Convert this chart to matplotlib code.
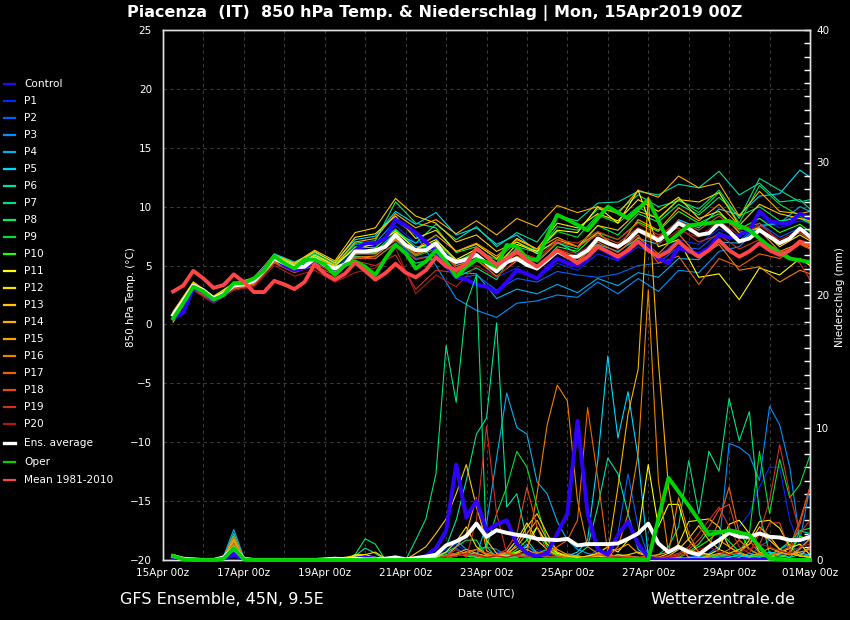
import numpy as np
import matplotlib
matplotlib.use('Agg')
import matplotlib.pyplot as plt
from matplotlib.lines import Line2D
from matplotlib.ticker import MultipleLocator

# ---------------- time axes (days after 15Apr2019 00z) ----------------
t6 = np.arange(1, 65) * 0.25                       # 6-hourly, 06z 15Apr .. 00z 01May
t12 = np.append(np.arange(0.25, 16.0, 0.5), 16.0)  # members: 06z/18z + end
t_oper = np.concatenate([np.arange(1, 41) * 0.25, 10.0 + np.arange(1, 13) * 0.5])

tick_days = [0, 2, 4, 6, 8, 10, 12, 14, 16]
tick_labels = ['15Apr 00z', '17Apr 00z', '19Apr 00z', '21Apr 00z', '23Apr 00z',
               '25Apr 00z', '27Apr 00z', '29Apr 00z', '01May 00z']

# ---------------- main lines: 850 hPa temperature (°C) ----------------
ctrl_temp = [0.5, 1.0, 3.1, 2.8, 2.0, 2.5, 3.3, 3.5,
             3.7, 4.7, 5.7, 5.0, 4.6, 4.8, 5.5, 5.0,
             4.7, 5.2, 6.3, 6.9, 6.9, 7.3, 8.9, 8.4,
             7.8, 7.0, 6.2, 5.0, 4.0, 3.8, 3.4, 3.2,
             2.7, 3.6, 4.6, 4.3, 3.9, 4.8, 5.6, 5.2,
             5.0, 5.6, 6.6, 6.1, 5.6, 6.2, 7.0, 6.6,
             5.6, 5.2, 6.5, 6.2, 6.0, 6.5, 7.6, 7.4,
             7.6, 8.0, 9.6, 8.8, 8.6, 8.6, 9.4, 9.0]
ens_temp = [0.8, 2.0, 3.3, 2.9, 2.2, 2.6, 3.3, 3.4,
            3.7, 4.6, 5.6, 5.2, 4.85, 4.9, 5.6, 5.05,
            4.75, 5.1, 6.2, 6.2, 6.3, 6.6, 7.6, 6.75,
            6.3, 6.3, 6.9, 5.75, 5.3, 5.5, 5.9, 5.2,
            4.5, 5.3, 5.6, 5.05, 4.75, 5.45, 6.2, 5.75,
            5.75, 6.3, 7.3, 6.9, 6.6, 7.15, 8.0, 7.6,
            7.15, 7.75, 8.6, 8.15, 7.6, 7.75, 8.6, 7.9,
            7.05, 7.3, 8.0, 7.45, 6.9, 7.3, 8.15, 7.45]
clim_temp = [2.8, 3.3, 4.55, 3.9, 3.1, 3.35, 4.25, 3.6,
             2.75, 2.75, 3.7, 3.4, 3.0, 3.6, 5.1, 4.3,
             3.8, 4.3, 5.25, 4.55, 3.8, 4.35, 5.15, 4.4,
             4.0, 4.6, 5.7, 4.95, 4.6, 5.15, 6.45, 5.75,
             5.05, 5.6, 6.2, 5.45, 4.9, 5.6, 6.3, 5.75,
             5.2, 5.75, 6.6, 6.2, 5.75, 6.3, 7.05, 6.3,
             5.75, 6.2, 7.05, 6.3, 5.75, 6.3, 7.15, 6.3,
             5.75, 6.2, 6.9, 6.3, 5.9, 6.3, 7.05, 6.75]
oper_temp = [0.5, 1.8, 3.2, 2.8, 2.1, 2.5, 3.5, 3.5,
             3.9, 4.6, 5.8, 5.2, 4.75, 5.5, 5.5, 5.1,
             4.2, 5.05, 5.35, 4.9, 4.2, 5.6, 6.75, 6.05,
             4.75, 5.35, 6.3, 5.35, 4.05, 4.9, 5.5, 5.3,
             4.9, 6.75, 6.6, 5.6, 5.45, 7.5, 9.3, 8.9,
             8.0, 10.0, 9.0, 10.6, 7.0, 8.4, 8.6, 8.8, 8.0, 6.6, 5.6, 5.3]

# ---------------- main lines: precipitation (mm) ----------------
ctrl_rain = [0.2, 0.05, 0, 0, 0, 0.1, 0.4, 0.05,
             0, 0, 0, 0, 0, 0, 0, 0,
             0, 0, 0.05, 0.2, 0.1, 0, 0, 0,
             0.1, 0.3, 0.9, 2.2, 7.2, 3.2, 4.5, 2.2,
             2.7, 3.0, 1.2, 0.5, 0.3, 0.5, 2.0, 3.5,
             10.5, 3.5, 0.8, 0.4, 1.9, 2.9, 1.2, 0.2,
             0, 0, 0, 0, 0, 0, 0, 0,
             0, 0, 0, 0, 0, 0, 0, 0]
ens_rain = [0.3, 0.1, 0.05, 0, 0, 0.2, 0.9, 0.1,
            0, 0, 0, 0, 0, 0, 0, 0.05,
            0.1, 0.05, 0.1, 0.05, 0.05, 0.1, 0.2, 0.05,
            0.15, 0.25, 0.4, 1.1, 1.4, 1.8, 2.75, 1.75,
            2.25, 2.05, 1.9, 1.8, 1.6, 1.55, 1.5, 1.6,
            1.1, 1.2, 1.2, 1.2, 1.25, 1.6, 2.0, 2.75,
            1.25, 0.6, 1.0, 0.6, 0.4, 1.0, 1.5, 2.05,
            1.75, 1.75, 2.0, 1.75, 1.7, 1.5, 1.5, 1.75]
oper_rain = [0.3, 0.05, 0, 0, 0, 0.1, 0.9, 0.05,
             0, 0, 0, 0, 0, 0, 0, 0,
             0, 0, 0, 0, 0, 0, 0, 0,
             0, 0, 0, 0, 0, 0, 0, 0,
             0, 0, 0, 0, 0, 0, 0, 0,
             0, 0, 0, 0, 6.2, 4.1, 1.9, 2.25, 1.9, 0.1, 0, 0]

# ---------------- ensemble members: temperature (06z/18z) ----------------
T_P1 = [0.6, 3.2, 2.1, 3.4, 3.8, 5.7, 4.9, 5.5, 4.6, 6.4, 6.6, 8.4, 6.9, 7.4, 5.0, 5.6, 4.0, 4.8, 3.9, 5.2, 4.6, 6.0, 5.4, 6.6, 5.8, 7.2, 6.8, 8.1, 7.4, 9.0, 8.2, 8.8, 8.6]
T_P2 = [0.9, 3.4, 2.0, 3.2, 3.6, 5.5, 4.7, 5.4, 4.5, 6.0, 6.0, 7.1, 5.6, 5.9, 3.9, 4.2, 2.9, 3.9, 3.6, 4.5, 4.2, 4.0, 4.3, 5.0, 5.2, 6.6, 6.4, 7.8, 7.1, 8.6, 7.4, 8.2, 7.9]
T_P3 = [0.7, 3.1, 1.9, 3.3, 3.9, 5.8, 5.0, 5.9, 5.0, 6.8, 6.9, 8.8, 7.6, 5.0, 2.2, 1.2, 0.6, 1.8, 2.0, 2.5, 2.3, 3.6, 2.6, 3.9, 2.8, 4.6, 4.4, 6.2, 6.6, 8.3, 8.6, 9.4, 9.2]
T_P4 = [0.8, 3.3, 2.0, 3.1, 3.7, 5.9, 5.1, 5.7, 4.9, 6.5, 6.8, 8.1, 6.6, 6.6, 4.4, 4.3, 2.2, 3.0, 2.6, 3.4, 2.7, 3.9, 3.3, 4.4, 4.0, 5.6, 5.5, 7.0, 6.9, 8.4, 8.6, 10.0, 9.6]
T_P5 = [0.9, 3.5, 2.3, 3.4, 3.8, 6.0, 5.3, 6.1, 5.3, 7.2, 7.5, 9.6, 8.5, 9.5, 7.6, 8.2, 6.8, 7.6, 6.2, 7.0, 6.0, 6.8, 6.2, 7.3, 6.8, 8.9, 8.2, 9.8, 9.3, 10.9, 11.1, 13.1, 12.5]
T_P6 = [0.7, 3.3, 2.2, 3.5, 3.9, 5.7, 4.8, 5.6, 4.7, 6.1, 6.2, 7.8, 6.9, 8.5, 7.2, 8.3, 6.6, 7.8, 7.0, 9.2, 8.8, 10.3, 10.4, 11.3, 11.0, 11.9, 11.6, 13.0, 11.0, 12.0, 10.4, 10.6, 9.8]
T_P7 = [0.6, 3.2, 2.1, 3.6, 3.6, 5.5, 4.7, 5.2, 4.5, 5.8, 5.6, 6.9, 5.2, 5.6, 4.0, 4.8, 3.8, 6.6, 6.1, 8.3, 8.0, 9.8, 9.6, 11.0, 10.0, 10.5, 9.8, 11.4, 9.0, 12.4, 11.4, 10.4, 10.6]
T_P8 = [0.5, 3.1, 2.3, 3.5, 3.8, 5.9, 5.2, 6.0, 5.1, 6.9, 7.1, 10.4, 8.6, 8.2, 6.1, 6.6, 5.2, 6.4, 5.3, 6.9, 6.4, 8.4, 7.6, 9.4, 8.7, 10.2, 9.3, 10.8, 9.2, 10.0, 8.8, 9.0, 8.6]
T_P9 = [0.4, 3.0, 2.0, 3.3, 3.7, 5.6, 4.9, 5.5, 4.6, 6.0, 6.1, 7.2, 5.8, 6.4, 5.2, 6.3, 5.5, 7.0, 6.2, 7.9, 7.4, 9.3, 8.6, 10.0, 8.9, 10.6, 9.5, 11.2, 8.6, 11.8, 10.2, 9.2, 8.7]
T_P10 = [0.6, 3.2, 2.2, 3.4, 3.9, 5.8, 5.0, 5.8, 4.9, 6.6, 6.5, 8.0, 6.4, 7.0, 5.4, 6.0, 4.6, 5.8, 4.8, 6.6, 6.2, 7.8, 7.2, 8.7, 7.9, 9.6, 8.6, 9.4, 8.1, 9.0, 7.8, 8.5, 7.9]
T_P11 = [0.9, 3.4, 2.3, 3.2, 3.5, 5.5, 4.9, 5.9, 5.0, 6.5, 6.8, 7.9, 6.4, 7.2, 5.5, 6.4, 5.0, 6.8, 6.2, 8.0, 7.8, 10.0, 8.6, 11.4, 6.6, 7.2, 4.0, 4.3, 2.1, 4.8, 4.2, 5.6, 5.0]
T_P12 = [1.0, 3.6, 2.4, 3.5, 3.9, 5.8, 5.1, 6.2, 5.2, 7.4, 7.7, 9.2, 7.3, 8.0, 6.2, 6.8, 5.6, 7.3, 6.4, 8.6, 8.2, 9.4, 8.8, 10.6, 9.6, 10.8, 9.0, 9.6, 7.8, 8.2, 6.6, 7.6, 7.1]
T_P13 = [0.2, 3.0, 2.1, 3.4, 4.0, 5.9, 5.2, 6.3, 5.4, 7.8, 8.2, 10.7, 9.2, 8.6, 7.0, 7.6, 6.2, 7.0, 6.0, 7.2, 6.6, 8.4, 8.0, 9.6, 9.0, 10.6, 10.4, 11.2, 8.4, 10.2, 9.4, 9.0, 8.8]
T_P14 = [1.1, 3.6, 2.3, 3.3, 3.7, 5.6, 5.0, 5.7, 5.0, 7.0, 7.3, 9.4, 8.2, 8.9, 7.7, 8.8, 7.6, 9.0, 8.3, 10.1, 9.5, 10.0, 9.4, 11.4, 10.8, 12.6, 11.6, 12.0, 9.2, 11.3, 9.6, 9.4, 9.6]
T_P15 = [1.0, 3.5, 2.2, 3.2, 3.6, 5.4, 4.6, 5.3, 4.4, 6.0, 6.0, 7.3, 6.4, 7.6, 6.2, 6.9, 5.8, 7.2, 6.4, 7.4, 6.6, 7.8, 6.4, 8.9, 8.0, 9.9, 8.8, 10.2, 8.4, 8.0, 6.2, 6.9, 6.5]
T_P16 = [0.8, 3.3, 2.1, 3.0, 3.4, 5.3, 4.5, 5.2, 4.4, 5.7, 5.8, 7.2, 5.9, 6.6, 5.0, 5.5, 4.1, 5.4, 4.9, 6.2, 5.4, 6.8, 5.6, 7.4, 6.0, 7.7, 5.7, 6.8, 4.6, 4.9, 3.6, 4.6, 4.3]
T_P17 = [0.7, 3.2, 2.0, 3.1, 3.5, 5.4, 4.6, 5.5, 4.6, 6.0, 6.2, 7.4, 6.0, 6.7, 4.8, 5.4, 4.4, 5.8, 4.9, 6.4, 5.7, 7.0, 6.1, 7.6, 5.2, 5.8, 3.4, 5.6, 4.9, 6.0, 5.6, 6.8, 6.4]
T_P18 = [0.5, 3.0, 1.9, 3.0, 3.3, 5.2, 4.4, 5.0, 4.2, 5.6, 5.6, 6.9, 5.5, 5.9, 4.6, 5.6, 4.8, 6.0, 5.4, 7.0, 6.6, 7.6, 6.9, 8.2, 7.4, 8.8, 8.0, 9.2, 8.0, 8.6, 7.0, 7.8, 7.2]
T_P19 = [0.6, 3.1, 2.0, 3.2, 3.6, 5.5, 4.7, 5.3, 4.3, 5.4, 5.0, 5.9, 3.0, 4.6, 4.4, 5.6, 4.7, 6.2, 5.6, 7.2, 6.9, 7.9, 7.2, 8.6, 7.6, 8.2, 7.0, 7.6, 6.4, 7.2, 6.3, 5.2, 3.8]
T_P20 = [0.4, 2.9, 1.8, 2.9, 3.2, 5.0, 4.1, 4.6, 3.6, 4.4, 4.8, 6.5, 2.6, 4.2, 3.2, 5.0, 4.0, 5.6, 4.6, 6.4, 6.0, 7.2, 6.4, 7.9, 6.8, 8.0, 7.4, 8.8, 7.6, 8.4, 7.2, 8.0, 7.5]

# ---------------- ensemble members: precipitation (6-hourly, mm) ----------------
R_P1 = [0.2, 0.1, 0, 0, 0, 0.1, 0.6, 0.1,
        0, 0, 0, 0, 0, 0, 0, 0,
        0, 0.1, 0.2, 0.3, 0.2, 0, 0, 0,
        0, 0.1, 0.3, 0.8, 1.2, 0.6, 0.4, 0.3,
        0.6, 0.4, 0.2, 0.3, 0.8, 0.5, 0.2, 0.1,
        0.1, 0.2, 0.4, 0.3, 0.1, 0.2, 0.1, 0.1,
        0, 0, 0.1, 0.2, 0.5, 0.8, 1.5, 2.0,
        2.5, 3.5, 5.5, 7.0, 7.0, 3.0, 1.0, 2.0]
R_P2 = [0.3, 0.1, 0, 0, 0, 0.1, 0.8, 0.1,
        0, 0, 0, 0, 0, 0, 0, 0,
        0, 0, 0, 0.1, 0.2, 0.1, 0, 0,
        0, 0, 0.2, 0.5, 0.9, 0.4, 0.2, 0.1,
        0.3, 0.5, 1.5, 1.0, 0.6, 0.2, 0.3, 0.5,
        0.3, 0.2, 0.8, 0.5, 2.0, 6.5, 2.5, 0.3,
        0.1, 0.1, 0, 0.1, 0.3, 0.5, 0.3, 0.2,
        0.4, 0.3, 1.0, 1.5, 0.8, 0.4, 0.6, 0.3]
R_P3 = [0.3, 0.1, 0, 0, 0, 0.2, 1.5, 0.1,
        0, 0, 0, 0, 0, 0, 0, 0,
        0, 0, 0.1, 0.2, 0.1, 0, 0, 0,
        0, 0.1, 0.4, 1.0, 1.5, 0.8, 0.5, 1.0,
        0.8, 0.3, 0.5, 1.2, 0.4, 0.2, 0.1, 0.3,
        0.2, 0.1, 0.3, 0.2, 0.1, 0.3, 0.2, 0.1,
        0.1, 0, 0.1, 0.2, 0.3, 0.5, 1.0, 8.8,
        8.5, 7.9, 6.0, 11.6, 10.2, 7.0, 1.5, 5.5]
R_P4 = [0.4, 0.1, 0, 0, 0, 0.3, 2.3, 0.2,
        0, 0, 0, 0, 0, 0, 0, 0,
        0, 0, 0, 0.1, 0.1, 0, 0, 0,
        0, 0, 0.1, 0.3, 0.5, 0.4, 0.3, 2.7,
        7.7, 12.6, 10.0, 9.5, 5.9, 5.0, 2.9, 1.5,
        0.8, 0.5, 0.3, 0.2, 0.4, 0.3, 0.1, 0.1,
        0, 0, 0.1, 0, 0.2, 0.1, 0.3, 0.5,
        0.3, 0.2, 0.5, 0.3, 0.8, 1.2, 0.5, 0.4]
R_P5 = [0.3, 0.1, 0, 0, 0, 0.2, 1.8, 0.1,
        0, 0, 0, 0, 0, 0, 0, 0,
        0, 0, 0, 0.1, 0.1, 0, 0, 0,
        0, 0, 0.1, 0.2, 0.3, 0.6, 0.2, 0.1,
        0.1, 0.3, 0.2, 0.6, 0.3, 0.2, 0.1, 0.3,
        0.6, 1.5, 7.5, 15.4, 9.2, 12.7, 7.7, 0.3,
        0.1, 0, 0.1, 0.1, 0.2, 0.3, 0.1, 0.2,
        0.4, 0.2, 0.3, 0.6, 0.4, 0.2, 0.9, 1.6]
R_P6 = [0.3, 0.1, 0, 0, 0, 0.2, 2.0, 0.1,
        0, 0, 0, 0, 0, 0, 0, 0,
        0, 0, 0.3, 0.9, 0.5, 0, 0, 0,
        0, 0.2, 0.4, 1.0, 3.0, 6.0, 9.5, 10.7,
        17.9, 4.0, 5.0, 1.5, 0.5, 0.3, 0.2, 0.1,
        0.4, 1.0, 4.0, 7.7, 6.5, 3.5, 0.8, 0.2,
        0.1, 0, 0.2, 0.1, 0.1, 0.2, 0.4, 0.3,
        0.2, 0.5, 0.3, 0.2, 0.6, 0.4, 2.2, 2.0]
R_P7 = [0.3, 0.1, 0, 0, 0, 0.1, 1.2, 0.1,
        0, 0, 0, 0, 0, 0, 0, 0,
        0, 0, 0, 0, 0, 0, 0, 0,
        1.5, 3.1, 6.5, 16.2, 11.9, 19.3, 21.5, 1.0,
        0.2, 0.1, 0.3, 0.2, 0.1, 0.1, 0, 0.1,
        0.1, 0.2, 0.1, 0.3, 0.2, 0.1, 0.2, 0.1,
        0.4, 1.0, 2.5, 7.5, 3.5, 8.2, 6.7, 12.2,
        9.0, 11.2, 3.5, 0.5, 0.3, 0.2, 0.4, 0.3]
R_P8 = [0.2, 0.1, 0, 0, 0, 0.1, 0.5, 0.1,
        0, 0, 0, 0, 0, 0, 0, 0,
        0, 0.1, 0.4, 1.6, 1.2, 0, 0, 0,
        0, 0, 0.3, 0.6, 1.0, 1.5, 1.5, 0.3,
        0.2, 0.4, 0.6, 0.3, 0.5, 0.8, 0.4, 0.2,
        0.1, 0.3, 0.2, 0.1, 0.3, 0.2, 0.1, 0.1,
        0.2, 0.1, 0.3, 0.6, 1.2, 2.2, 2.2, 1.4,
        0.6, 0.3, 0.2, 0.4, 0.8, 1.4, 2.2, 2.4]
R_P9 = [0.3, 0.1, 0, 0, 0, 0.1, 0.9, 0.1,
        0, 0, 0, 0, 0, 0, 0, 0,
        0, 0, 0, 0.1, 0.2, 0.1, 0, 0,
        0, 0, 0.1, 0.2, 0.3, 0.5, 0.8, 1.0,
        3.5, 5.5, 8.2, 7.0, 4.0, 1.5, 0.5, 0.3,
        0.2, 0.1, 0.3, 0.2, 0.1, 0.2, 0.1, 0,
        0, 0.1, 0, 0.2, 0.1, 0.3, 0.2, 0.4,
        0.5, 2.0, 8.2, 3.5, 7.6, 4.7, 5.7, 7.9]
R_P10 = [0.3, 0.1, 0, 0, 0, 0.2, 1.0, 0.1,
         0, 0, 0, 0, 0, 0, 0, 0,
         0, 0, 0, 0.05, 0.1, 0, 0, 0,
         0, 0.1, 0.2, 0.4, 0.5, 0.3, 0.2, 0.1,
         0.2, 0.3, 0.8, 1.5, 2.5, 1.0, 0.4, 0.2,
         0.1, 0.2, 0.1, 0.1, 0.2, 0.1, 0.2, 0.1,
         0, 0.1, 0.2, 0.5, 1.0, 1.5, 2.2, 2.2,
         2.2, 0.8, 0.4, 0.3, 0.2, 0.5, 1.8, 1.5]
R_P11 = [0.4, 0.1, 0, 0, 0, 0.1, 0.4, 0.1,
         0, 0, 0, 0, 0, 0, 0, 0,
         0.1, 0.2, 0.3, 0.4, 0.2, 0, 0, 0,
         0, 0, 0.1, 0.2, 0.4, 0.6, 0.4, 0.2,
         0.4, 0.3, 0.6, 1.0, 2.5, 1.2, 0.5, 0.3,
         0.2, 0.3, 0.5, 1.0, 0.6, 1.5, 2.0, 7.2,
         2.5, 4.2, 4.2, 1.5, 0.6, 0.4, 0.8, 2.7,
         3.0, 2.0, 0.6, 0.3, 0.5, 0.9, 1.2, 0.4]
R_P12 = [0.3, 0.1, 0, 0, 0, 0.1, 0.3, 0.1,
         0, 0, 0, 0, 0, 0, 0, 0,
         0, 0, 0.4, 0.4, 0.6, 0.1, 0, 0,
         0, 0.1, 0.2, 0.6, 1.4, 2.5, 1.0, 0.4,
         0.3, 0.6, 1.5, 2.8, 1.5, 0.8, 0.3, 0.2,
         0.3, 0.2, 0.5, 0.4, 0.3, 0.4, 0.6, 0.3,
         0.2, 0.5, 1.2, 2.9, 3.0, 3.1, 2.5, 1.0,
         0.5, 1.5, 2.9, 3.0, 2.4, 1.0, 0.3, 0.2]
R_P13 = [0.2, 0.1, 0, 0, 0, 0.2, 1.4, 0.1,
         0, 0, 0, 0, 0, 0, 0, 0,
         0, 0, 0.1, 0.2, 0.1, 0, 0, 0,
         0.5, 1.0, 2.0, 3.1, 5.0, 7.2, 4.0, 1.5,
         0.5, 0.3, 1.2, 2.5, 3.5, 2.0, 0.6, 0.3,
         0.2, 0.1, 0.3, 0.2, 0.4, 0.3, 0.2, 0.1,
         0.1, 0.3, 0.8, 1.6, 2.6, 1.5, 0.8, 0.5,
         0.8, 1.2, 2.5, 1.8, 0.8, 0.5, 0.3, 0.2]
R_P14 = [0.3, 0.1, 0, 0, 0, 0.2, 1.6, 0.1,
         0, 0, 0, 0, 0, 0, 0, 0,
         0, 0, 0, 0.1, 0.1, 0, 0, 0,
         0, 0, 0.1, 0.2, 0.5, 0.8, 0.5, 0.3,
         0.2, 0.3, 0.5, 0.8, 0.4, 0.2, 0.1, 0.2,
         0.1, 0.2, 0.3, 0.5, 5.5, 11.0, 14.4, 27.4,
         15.0, 5.5, 1.0, 0.2, 0.1, 0.3, 0.5, 0.4,
         0.6, 1.2, 2.0, 1.5, 0.8, 0.5, 0.3, 1.0]
R_P15 = [0.3, 0.1, 0, 0, 0, 0.1, 1.1, 0.1,
         0, 0, 0, 0, 0, 0, 0, 0,
         0, 0, 0, 0.1, 0.1, 0, 0, 0,
         0, 0, 0.1, 0.3, 1.0, 2.0, 4.7, 0.7,
         0.3, 0.5, 1.0, 2.0, 3.0, 1.5, 0.8, 0.4,
         0.3, 0.2, 0.4, 0.6, 0.8, 1.2, 0.5, 0.3,
         0.4, 0.6, 1.0, 0.8, 0.5, 0.9, 1.5, 1.0,
         0.5, 0.3, 0.5, 0.9, 0.6, 0.4, 0.6, 0.8]
R_P16 = [0.3, 0.1, 0, 0, 0, 0.2, 1.8, 0.1,
         0, 0, 0, 0, 0, 0, 0, 0,
         0, 0, 0, 0.1, 0.1, 0, 0, 0,
         0, 0, 0.1, 0.2, 0.4, 0.6, 0.8, 0.4,
         0.3, 0.2, 0.2, 0.5, 5.0, 10.2, 13.2, 12.0,
         4.5, 1.0, 0.5, 0.2, 1.0, 3.5, 8.0, 20.4,
         6.0, 0.5, 4.7, 2.0, 0.5, 0.3, 0.4, 0.8,
         1.5, 0.8, 0.4, 0.3, 0.5, 0.4, 0.8, 1.6]
R_P17 = [0.3, 0.1, 0, 0, 0, 0.1, 1.3, 0.1,
         0, 0, 0, 0, 0, 0, 0, 0,
         0, 0, 0, 0.05, 0.1, 0, 0, 0,
         0, 0, 0, 0.1, 0.3, 0.5, 0.8, 0.5,
         0.4, 0.6, 0.4, 0.3, 0.6, 0.5, 1.0, 1.5,
         3.0, 11.5, 6.2, 0.5, 0.2, 0.1, 0.2, 0.3,
         0.2, 0.1, 0.3, 0.5, 0.6, 1.0, 3.0, 5.5,
         2.0, 1.5, 0.5, 0.3, 0.6, 1.0, 3.0, 5.5]
R_P18 = [0.2, 0.1, 0, 0, 0, 0.1, 0.7, 0.1,
         0, 0, 0, 0, 0, 0, 0, 0,
         0, 0, 0, 0.1, 0.1, 0, 0, 0,
         0, 0, 0.1, 0.3, 0.5, 0.4, 0.3, 0.2,
         0.4, 0.8, 2.0, 5.5, 2.5, 0.6, 0.3, 0.2,
         0.1, 0.2, 0.4, 0.3, 0.2, 0.3, 0.2, 0.1,
         0.1, 0.2, 0.4, 0.8, 1.5, 2.5, 3.8, 4.2,
         1.5, 0.8, 1.2, 2.8, 2.8, 0.6, 2.7, 5.5]
R_P19 = [0.3, 0.1, 0, 0, 0, 0.1, 1.0, 0.1,
         0, 0, 0, 0, 0, 0, 0, 0,
         0, 0, 0, 0.1, 0.1, 0, 0, 0,
         0, 0, 0.1, 0.3, 0.8, 0.2, 3.0, 10.1,
         3.5, 0.5, 0.3, 0.2, 0.4, 0.3, 0.2, 0.1,
         0.1, 0.2, 0.1, 0.2, 0.3, 0.2, 0.1, 0.2,
         0.2, 0.3, 0.5, 1.0, 2.0, 3.0, 4.0, 2.5,
         1.0, 0.5, 2.0, 4.5, 8.7, 5.0, 2.0, 3.0]
R_P20 = [0.2, 0.1, 0, 0, 0, 0.1, 0.4, 0.1,
         0, 0, 0, 0, 0, 0, 0, 0,
         0, 0, 0, 0.05, 0.1, 0, 0, 0,
         0, 0, 0.1, 0.2, 0.3, 0.5, 0.4, 0.2,
         0.3, 0.2, 0.4, 0.6, 0.3, 0.2, 0.1, 0.1,
         0.1, 0.1, 0.2, 0.1, 0.2, 0.1, 0.1, 0.1,
         0.1, 0.2, 0.3, 0.5, 0.8, 1.0, 0.6, 0.4,
         0.6, 0.8, 1.2, 1.0, 0.7, 0.5, 1.0, 1.2]

member_names = ['P%d' % i for i in range(1, 21)]
member_colors = ['#0028ff', '#0060ff', '#0090ff', '#00b0f0', '#00d8ff', '#00e0a0',
                 '#00e080', '#00ee60', '#00e030', '#20ff00', '#ffff00', '#ffe000',
                 '#ffc800', '#ffb000', '#ffa000', '#f08000', '#f06000', '#e04820',
                 '#d03020', '#b01818']
member_temps = [T_P1, T_P2, T_P3, T_P4, T_P5, T_P6, T_P7, T_P8, T_P9, T_P10,
                T_P11, T_P12, T_P13, T_P14, T_P15, T_P16, T_P17, T_P18, T_P19, T_P20]
member_rains = [R_P1, R_P2, R_P3, R_P4, R_P5, R_P6, R_P7, R_P8, R_P9, R_P10,
                R_P11, R_P12, R_P13, R_P14, R_P15, R_P16, R_P17, R_P18, R_P19, R_P20]

CTRL_C = '#3000ff'
OPER_C = '#00d400'
CLIM_C = '#ff4545'
GRID_C = '#3a3a3a'

# ---------------- figure ----------------
fig = plt.figure(figsize=(8.5, 6.2), dpi=100, facecolor='black')
W, H = 850.0, 620.0
ax = fig.add_axes([163 / W, 60 / H, 647 / W, 530 / H])
ax.set_facecolor('black')
ax2 = ax.twinx()

def xy(t, v):
    n = min(len(t), len(v))
    return t[:n], v[:n]

# temperature
for c, v in zip(member_colors, member_temps):
    ax.plot(*xy(t12, v), color=c, lw=0.8, zorder=2)
ax.plot(*xy(t6, ctrl_temp), color=CTRL_C, lw=2.8, zorder=3)
ax.plot(*xy(t6, ens_temp), color='white', lw=2.8, zorder=4)
ax.plot(*xy(t_oper, oper_temp), color=OPER_C, lw=2.8, zorder=5)
ax.plot(*xy(t6, clim_temp), color=CLIM_C, lw=2.8, zorder=6)

# precipitation
for c, v in zip(member_colors, member_rains):
    ax2.plot(*xy(t6, v), color=c, lw=0.8, zorder=2)
ax2.plot(*xy(t6, ctrl_rain), color=CTRL_C, lw=2.8, zorder=3)
ax2.plot(*xy(t6, ens_rain), color='white', lw=2.8, zorder=4)
ax2.plot(*xy(t_oper, oper_rain), color=OPER_C, lw=2.8, zorder=5, clip_on=False)

# axes limits / ticks
ax.set_xlim(0, 16)
ax.set_ylim(-20, 25)
ax2.set_ylim(0, 40)
ax.set_xticks(tick_days)
ax.set_xticklabels(tick_labels)
ax.set_xticks(np.arange(0, 17, 1), minor=True)
ax.set_yticks(np.arange(-20, 26, 5))
ax.tick_params(axis='x', which='both', length=0, pad=6, labelcolor='white', labelsize=7.5)
ax.tick_params(axis='y', which='both', length=0, pad=8, labelcolor='white', labelsize=7.5)
ax.grid(True, which='both', axis='x', color=GRID_C, linestyle=(0, (3, 3)), linewidth=0.8)
ax.grid(True, which='major', axis='y', color=GRID_C, linestyle=(0, (3, 3)), linewidth=0.8)
ax.set_axisbelow(True)

ax2.set_yticks([0, 10, 20, 30, 40])
ax2.yaxis.set_minor_locator(MultipleLocator(1))
ax2.tick_params(axis='y', which='major', direction='in', length=4, width=1,
                color='white', labelcolor='white', labelsize=7.5, pad=4.5)
ax2.tick_params(axis='y', which='minor', direction='in', length=4, width=1, color='white')

for a in (ax, ax2):
    for s in a.spines.values():
        s.set_color('#e0e0e0')
        s.set_linewidth(1.0)

# texts
fig.text(434.5 / W, 1 - 13 / H, 'Piacenza  (IT)  850 hPa Temp. & Niederschlag | Mon, 15Apr2019 00Z',
         ha='center', va='center', color='white', fontsize=11.5, fontweight='bold')
fig.text(131 / W, 1 - 297 / H, '850 hPa Temp. (°C)', rotation=90, ha='center', va='center',
         color='white', fontsize=7.5)
fig.text(840 / W, 1 - 297 / H, 'Niederschlag (mm)', rotation=90, ha='center', va='center',
         color='white', fontsize=7.5)
fig.text(486.5 / W, 1 - 593 / H, 'Date (UTC)', ha='center', va='center', color='white', fontsize=7.5)
fig.text(120 / W, 1 - 600 / H, 'GFS Ensemble, 45N, 9.5E', ha='left', va='center',
         color='white', fontsize=11.5)
fig.text(795 / W, 1 - 600 / H, 'Wetterzentrale.de', ha='right', va='center',
         color='white', fontsize=11.5)

# legend (left side, outside the plot)
leg_labels = ['Control'] + member_names + ['Ens. average', 'Oper', 'Mean 1981-2010']
leg_colors = [CTRL_C] + member_colors + ['white', OPER_C, CLIM_C]
leg_y = [84 + 17 * i for i in range(21)] + [443, 462, 480]
for lab, col, yy in zip(leg_labels, leg_colors, leg_y):
    yf = 1 - yy / H
    lw = 2.4 if lab == 'Ens. average' else 1.6
    fig.add_artist(Line2D([4 / W, 15 / W], [yf, yf], transform=fig.transFigure, color=col, lw=lw))
    fig.text(24 / W, yf, lab, ha='left', va='center', color='white', fontsize=7.6)

fig.savefig('out.png', dpi=100, facecolor='black')
